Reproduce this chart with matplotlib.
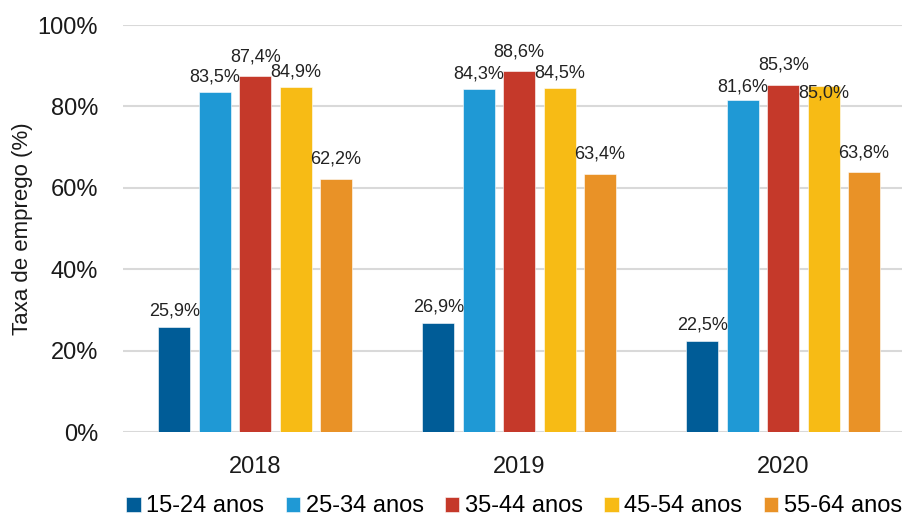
import numpy as np
import matplotlib.pyplot as plt

plt.rcParams['font.family'] = ['Liberation Sans', 'DejaVu Sans']

# dados
anos = ['2018', '2019', '2020']
faixas = ['15-24 anos', '25-34 anos', '35-44 anos', '45-54 anos', '55-64 anos']
v_15_24 = [25.9, 26.9, 22.5]
v_25_34 = [83.5, 84.3, 81.6]
v_35_44 = [87.4, 88.6, 85.3]
v_45_54 = [84.9, 84.5, 85.0]
v_55_64 = [62.2, 63.4, 63.8]
series = [v_15_24, v_25_34, v_35_44, v_45_54, v_55_64]
cores = ['#005c97', '#1f99d5', '#c5392a', '#f7bb15', '#e99227']

# deslocamento vertical dos rotulos (pontos) - como no original
desloc = [[5, 5, 5], [5, 5, 3], [8, 8, 8], [4, 5, -11], [8, 8, 8]]

fig = plt.figure(figsize=(9.02, 5.22), dpi=100)
ax = fig.add_axes([0.1365, 0.172, 0.8635, 0.780])

x = np.arange(len(anos))
larg = 0.121
passo = 0.153
for i, (vals, cor) in enumerate(zip(series, cores)):
    pos = x + (i - 2) * passo
    ax.bar(pos, vals, width=larg, color=cor, label=faixas[i], zorder=3,
           edgecolor='white', linewidth=0.4)
    for j, v in enumerate(vals):
        ax.annotate(f'{v:.1f}%'.replace('.', ','), (pos[j], v),
                    xytext=(0, desloc[i][j]), textcoords='offset points',
                    ha='center', va='bottom', fontsize=13, color='#222222',
                    zorder=4)

ax.set_ylim(0, 100)
ax.set_xlim(-0.5, 2.45)
ax.set_yticks(np.arange(0, 101, 20))
ax.set_yticklabels([f'{t}%' for t in range(0, 101, 20)])
ax.set_xticks(x)
ax.set_xticklabels(anos)
ax.tick_params(length=0, labelsize=17, colors='#1a1a1a')
ax.tick_params(axis='y', pad=18)
ax.tick_params(axis='x', pad=17)
ax.grid(axis='y', color='#d9d9d9', linewidth=1.5, zorder=0)
for s in ax.spines.values():
    s.set_visible(False)
ax.set_ylabel('Taxa de emprego (%)', fontsize=16, color='#1a1a1a', labelpad=3)

fig.legend(loc='lower center', bbox_to_anchor=(0.57, -0.032), ncol=5,
           frameon=False, fontsize=17, handlelength=0.6, handleheight=0.6,
           handletextpad=0.25, columnspacing=0.9)

fig.savefig('out.png', dpi=100)
